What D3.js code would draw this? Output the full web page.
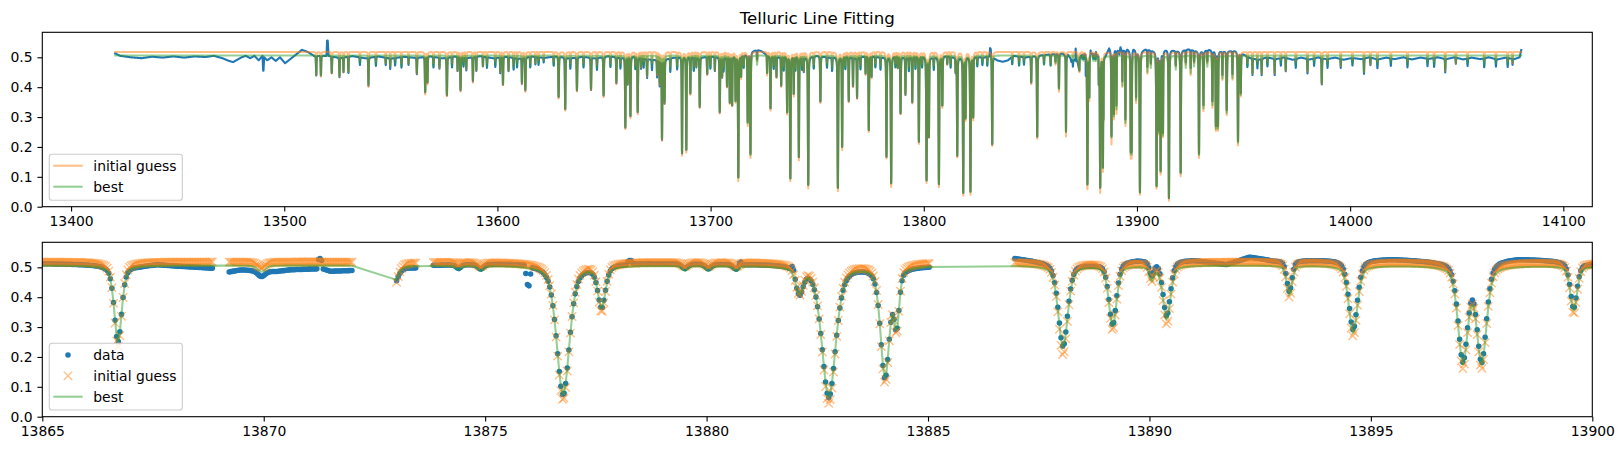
<!DOCTYPE html>
<html>
<head>
<meta charset="utf-8">
<script src="https://cdnjs.cloudflare.com/ajax/libs/d3/7.8.5/d3.min.js"></script>
<style>
  body { margin: 0; background: #fff; }
  svg text { font-family: "DejaVu Sans", sans-serif; fill: #000; }
</style>
</head>
<body>
<svg id="fig" width="1623" height="451"></svg>
<script>
// tick labels
var topTicks = [13400, 13500, 13600, 13700, 13800, 13900, 14000, 14100];
var zoomTicks = [13865, 13870, 13875, 13880, 13885, 13890, 13895, 13900];
var yTicks = [0.0, 0.1, 0.2, 0.3, 0.4, 0.5];

// wavelength stretches covered by the spectrum (gaps between them)
var segStart = [13420.7, 13508.3, 13869.22, 13873.0, 13873.83, 13886.96];
var segEnd   = [13500.4, 13868.86, 13872.02, 13873.46, 13885.04, 14080.3];
var pixelStep = 0.036;

// continuum levels of the model fits
var bestLevel = 0.506;
var guessLevel = 0.518;

var contX = [13420.7, 13423, 13428, 13433, 13438, 13443, 13448, 13453, 13458, 13463, 13467, 13471, 13474, 13476, 13478,
  13480, 13482, 13484, 13486, 13488, 13489.8, 13490.1, 13490.25, 13490.6, 13492, 13494, 13496, 13498, 13500.4,
  13508.3, 13511, 13514, 13519.8, 13520.1, 13520.4, 13520.8,
  13526, 13532, 13538, 13544, 13550, 13556, 13562, 13568, 13574, 13580, 13586, 13592, 13598, 13604, 13610,
  13616, 13622, 13628, 13634, 13640, 13646, 13652, 13658, 13664, 13670, 13676, 13682, 13688, 13694, 13700,
  13706, 13712, 13716, 13719, 13722, 13724, 13727, 13732, 13738, 13744, 13750, 13756, 13762, 13768, 13774,
  13780, 13786, 13792, 13798, 13804, 13810, 13816, 13822, 13828,
  13830.8, 13831.1, 13831.4, 13831.8, 13834.5, 13837, 13839.5, 13842, 13848, 13854, 13860,
  13865, 13866.0, 13867.2, 13867.6, 13868.0, 13868.86, 13869.22, 13869.5, 13870.3, 13870.6,
  13871.20, 13871.24, 13871.30, 13871.34, 13871.5, 13872.02, 13873.0, 13873.46, 13873.83,
  13875.8, 13875.90, 13875.94, 13876.00, 13876.04, 13877.4, 13878.0, 13878.20, 13878.23, 13878.30, 13878.34,
  13880.70, 13880.73, 13880.78, 13880.82, 13881.88, 13881.92, 13881.98, 13882.02, 13885.04,
  13886.96, 13887.5, 13888.7, 13889.7, 13891.0, 13891.74, 13892.27, 13892.8, 13895.5, 13896.5, 13898.3,
  13899.2, 13900, 13904, 13909, 13914, 13919, 13924, 13929, 13934, 13940, 13946, 13950, 13953, 13957,
  13961, 13965, 13969, 13973, 13977, 13981, 13985, 13989, 13993, 13997, 14001, 14005, 14009, 14013, 14017,
  14021, 14025, 14029, 14033, 14037, 14041, 14045, 14049, 14053, 14057, 14061, 14065, 14069, 14073, 14077,
  14079.5, 14080.3];
var contY = [0.513, 0.505, 0.500, 0.497, 0.502, 0.499, 0.503, 0.499, 0.503, 0.501, 0.505, 0.497, 0.488, 0.484, 0.492,
  0.500, 0.505, 0.497, 0.505, 0.490, 0.505, 0.455, 0.455, 0.500, 0.490, 0.500, 0.488, 0.500, 0.480,
  0.525, 0.518, 0.505, 0.505, 0.556, 0.556, 0.505,
  0.498, 0.504, 0.497, 0.503, 0.496, 0.502, 0.498, 0.504, 0.497, 0.503, 0.498, 0.504, 0.497, 0.502, 0.496,
  0.503, 0.498, 0.504, 0.497, 0.502, 0.497, 0.504, 0.498, 0.503, 0.494, 0.490, 0.498, 0.504, 0.498, 0.503,
  0.498, 0.505, 0.508, 0.520, 0.525, 0.520, 0.505, 0.500, 0.506, 0.499, 0.505, 0.499, 0.504, 0.498, 0.505,
  0.499, 0.504, 0.498, 0.505, 0.499, 0.504, 0.498, 0.504, 0.499,
  0.505, 0.534, 0.534, 0.505, 0.490, 0.485, 0.490, 0.505, 0.500, 0.507, 0.510,
  0.513, 0.510, 0.505, 0.510, 0.505, 0.497, 0.485, 0.492, 0.487, 0.492,
  0.495, 0.530, 0.530, 0.495, 0.487, 0.490, 0.503, 0.500, 0.508,
  0.515, 0.515, 0.452, 0.445, 0.510, 0.505, 0.513, 0.513, 0.527, 0.527, 0.515,
  0.512, 0.525, 0.525, 0.512, 0.512, 0.530, 0.530, 0.505, 0.505,
  0.532, 0.522, 0.512, 0.527, 0.525, 0.510, 0.535, 0.523, 0.529, 0.522, 0.532,
  0.524, 0.515, 0.527, 0.520, 0.528, 0.521, 0.527, 0.520, 0.526, 0.520, 0.522, 0.510, 0.498, 0.492,
  0.500, 0.494, 0.500, 0.492, 0.499, 0.493, 0.500, 0.494, 0.499, 0.492, 0.498, 0.494, 0.500, 0.493, 0.499,
  0.494, 0.500, 0.493, 0.499, 0.495, 0.500, 0.494, 0.500, 0.493, 0.499, 0.494, 0.500, 0.493, 0.499, 0.494,
  0.500, 0.525];

// telluric lines: centre, width (FWHM), minimum of data/best, minimum of initial guess
var lineCenter = [13515.0, 13517.2, 13522.3, 13525.9, 13527.8, 13530.1, 13539.5, 13547.6, 13549.7, 13558.3,
  13562.2, 13566.1, 13567.2, 13572.8, 13576.3, 13581.3, 13582.7, 13585.4, 13588.5, 13590.1,
  13593.2, 13601.3, 13602.6, 13605.2, 13611.5, 13613.1, 13617.8, 13621.7, 13628.7, 13631.8,
  13637.3, 13643.9, 13649.8, 13655.8, 13660.0, 13661.1, 13662.4, 13665.8, 13667.4, 13670.2,
  13674.9, 13676.1, 13677.2, 13678.4, 13686.6, 13688.6, 13690.5, 13693.3, 13694.9, 13698.4,
  13702.0, 13704.3, 13705.4, 13707.7, 13709.0, 13710.1, 13711.7, 13713.0, 13714.3, 13717.4,
  13718.7, 13726.5, 13728.1, 13730.9, 13733.1, 13735.9, 13737.4, 13739.0, 13741.4, 13743.7,
  13745.8, 13751.5, 13759.7, 13761.7, 13764.8, 13766.8, 13768.7, 13772.7, 13774.2, 13775.5,
  13782.5, 13784.7, 13787.8, 13789.1, 13791.4, 13794.6, 13797.7, 13801.3, 13802.4, 13807.1,
  13808.7, 13811.0, 13814.9, 13815.7, 13818.5, 13819.6, 13821.9, 13823.2, 13832.1, 13850.4,
  13853.2, 13861.8, 13863.4, 13866.71, 13869.95, 13872.9, 13874.4, 13874.9, 13876.76, 13877.63,
  13879.51, 13880.04, 13880.67, 13882.1, 13882.76, 13884.03, 13884.29, 13888.05, 13889.17, 13890.05,
  13890.39, 13893.16, 13894.6, 13897.08, 13897.5, 13899.58, 13901.4, 13904.9, 13909.2, 13910.3,
  13911.1, 13912.2, 13915.0, 13920.5, 13925.2, 13929.1, 13931.2, 13935.4, 13937.0, 13938.0,
  13940.1, 13942.1, 13944.8, 13947.4, 13948.7, 13954.2, 13958.5, 13964.6, 13969.8, 13980.0,
  13986.7, 13995.6, 14006.5, 14009.5, 14044.6, 14049.6, 14076.2];
var lineWidth = [0.25, 0.25, 0.25, 0.25, 0.2, 0.2, 0.25, 0.2, 0.2, 0.2,
  0.25, 0.3, 0.25, 0.2, 0.3, 0.2, 0.3, 0.2, 0.25, 0.2,
  0.2, 0.2, 0.25, 0.2, 0.25, 0.3, 0.2, 0.2, 0.3, 0.3,
  0.3, 0.3, 0.3, 0.25, 0.3, 0.2, 0.3, 0.3, 0.2, 0.25,
  0.25, 0.25, 0.3, 0.3, 0.3, 0.3, 0.25, 0.2, 0.3, 0.25,
  0.2, 0.3, 0.2, 0.25, 0.25, 0.25, 0.25, 0.35, 0.2, 0.3,
  0.3, 0.2, 0.3, 0.2, 0.25, 0.3, 0.35, 0.25, 0.3, 0.2,
  0.35, 0.3, 0.35, 0.3, 0.25, 0.25, 0.25, 0.2, 0.3, 0.2,
  0.3, 0.35, 0.2, 0.3, 0.25, 0.25, 0.3, 0.35, 0.3, 0.35,
  0.3, 0.2, 0.2, 0.3, 0.35, 0.25, 0.35, 0.25, 0.3, 0.25,
  0.3, 0.2, 0.25, 0.2, 0.2, 0.25, 0.12, 0.15, 0.34, 0.2,
  0.15, 0.15, 0.15, 0.2, 0.37, 0.24, 0.14, 0.25, 0.2, 0.12,
  0.2, 0.14, 0.23, 0.26, 0.26, 0.18, 0.35, 0.2, 0.35, 0.25,
  0.3, 0.25, 0.35, 0.3, 0.2, 0.3, 0.3, 0.3, 0.3, 0.3,
  0.2, 0.3, 0.2, 0.3, 0.25, 0.2, 0.2, 0.2, 0.2, 0.2,
  0.25, 0.2, 0.2, 0.2, 0.2, 0.2, 0.2];
var lineMin = [0.44, 0.44, 0.45, 0.44, 0.455, 0.45, 0.41, 0.48, 0.47, 0.48,
  0.45, 0.385, 0.418, 0.469, 0.377, 0.458, 0.393, 0.463, 0.424, 0.458,
  0.472, 0.452, 0.411, 0.458, 0.418, 0.394, 0.48, 0.49, 0.368, 0.329,
  0.393, 0.396, 0.374, 0.418, 0.268, 0.413, 0.304, 0.32, 0.469, 0.441,
  0.447, 0.418, 0.229, 0.355, 0.179, 0.19, 0.382, 0.474, 0.337, 0.447,
  0.458, 0.318, 0.44, 0.407, 0.352, 0.34, 0.357, 0.098, 0.437, 0.279,
  0.17, 0.447, 0.329, 0.437, 0.407, 0.318, 0.095, 0.38, 0.167, 0.458,
  0.073, 0.352, 0.062, 0.201, 0.357, 0.407, 0.368, 0.447, 0.257, 0.437,
  0.167, 0.078, 0.469, 0.315, 0.38, 0.352, 0.218, 0.089, 0.235, 0.076,
  0.34, 0.48, 0.458, 0.173, 0.045, 0.30, 0.05, 0.301, 0.207, 0.418,
  0.232, 0.48, 0.393, 0.25, 0.485, 0.43, 0.493, 0.49, 0.072, 0.366,
  0.49, 0.49, 0.49, 0.42, 0.064, 0.13, 0.31, 0.23, 0.30, 0.46,
  0.325, 0.405, 0.28, 0.18, 0.178, 0.355, 0.047, 0.45, 0.067, 0.25,
  0.114, 0.24, 0.028, 0.109, 0.447, 0.17, 0.329, 0.34, 0.262, 0.262,
  0.43, 0.313, 0.43, 0.214, 0.375, 0.449, 0.45, 0.45, 0.46, 0.455,
  0.415, 0.475, 0.452, 0.48, 0.46, 0.485, 0.485];
var guessMin = [0.44, 0.435, 0.445, 0.435, 0.45, 0.45, 0.40, 0.48, 0.47, 0.48,
  0.445, 0.375, 0.41, 0.465, 0.37, 0.455, 0.385, 0.46, 0.415, 0.455,
  0.47, 0.45, 0.405, 0.455, 0.41, 0.385, 0.48, 0.49, 0.36, 0.32,
  0.385, 0.39, 0.365, 0.41, 0.26, 0.41, 0.295, 0.31, 0.465, 0.435,
  0.44, 0.41, 0.22, 0.345, 0.17, 0.18, 0.375, 0.47, 0.33, 0.44,
  0.455, 0.31, 0.435, 0.40, 0.345, 0.335, 0.35, 0.085, 0.43, 0.27,
  0.16, 0.44, 0.32, 0.43, 0.40, 0.31, 0.085, 0.37, 0.155, 0.455,
  0.06, 0.345, 0.05, 0.19, 0.35, 0.40, 0.36, 0.44, 0.25, 0.43,
  0.16, 0.065, 0.465, 0.31, 0.375, 0.345, 0.21, 0.08, 0.23, 0.065,
  0.33, 0.475, 0.455, 0.165, 0.035, 0.29, 0.04, 0.29, 0.2, 0.41,
  0.225, 0.475, 0.385, 0.234, 0.50, 0.41, 0.512, 0.505, 0.056, 0.355,
  0.505, 0.505, 0.505, 0.42, 0.045, 0.115, 0.30, 0.207, 0.29, 0.46,
  0.31, 0.40, 0.27, 0.165, 0.165, 0.345, 0.04, 0.445, 0.06, 0.245,
  0.105, 0.235, 0.02, 0.1, 0.44, 0.16, 0.32, 0.33, 0.255, 0.255,
  0.425, 0.305, 0.425, 0.205, 0.37, 0.445, 0.445, 0.445, 0.455, 0.45,
  0.41, 0.47, 0.45, 0.475, 0.455, 0.48, 0.48];

// weak lines that make up the ragged band near the continuum (top panel only)
var weakCenter = [13535.5, 13543.0, 13552.0, 13555.0, 13570.0, 13578.7, 13584.1, 13595.1, 13599.0, 13607.6,
  13609.2, 13615.4, 13619.3, 13626.4, 13634.2, 13640.4, 13646.7, 13653.0, 13657.7, 13664.7,
  13668.6, 13672.5, 13681.1, 13684.3, 13692.1, 13699.9, 13706.1, 13715.5, 13721.8, 13729.6,
  13734.3, 13739.8, 13742.9, 13748.4, 13754.6, 13757.0, 13763.2, 13770.3, 13777.3, 13779.7,
  13786.7, 13793.0, 13796.1, 13799.2, 13804.7, 13812.6, 13825.1, 13827.5, 13829.8, 13841.5,
  13844.7, 13847.0, 13856.4, 13859.5, 13906.5, 13918.2, 13922.9, 13926.8, 13933.0, 13951.8,
  13956.5, 13961.2, 13967.5, 13974.5, 13983.1, 13989.4, 14001.1, 14012.8, 14019.1, 14026.9,
  14036.3, 14039.4, 14055.1, 14062.9, 14068.4, 14073.9];
var weakMin = [0.48, 0.475, 0.48, 0.47, 0.47, 0.47, 0.475, 0.47, 0.475, 0.465,
  0.475, 0.47, 0.48, 0.475, 0.47, 0.47, 0.465, 0.47, 0.47, 0.465,
  0.475, 0.47, 0.46, 0.465, 0.46, 0.465, 0.46, 0.465, 0.475, 0.465,
  0.46, 0.46, 0.465, 0.465, 0.47, 0.46, 0.465, 0.465, 0.47, 0.465,
  0.47, 0.46, 0.465, 0.47, 0.465, 0.47, 0.475, 0.48, 0.475, 0.48,
  0.475, 0.48, 0.475, 0.47, 0.465, 0.46, 0.465, 0.47, 0.47, 0.47,
  0.475, 0.475, 0.48, 0.475, 0.48, 0.475, 0.48, 0.475, 0.48, 0.475,
  0.48, 0.475, 0.48, 0.475, 0.48, 0.475];

var legendTop = ["initial guess", "best"];
var legendBottom = ["data", "initial guess", "best"];

var colData = "#1f77b4", colGuess = "#ff7f0e", colBest = "#2ca02c";
var eta = 0.45; // lorentz share of the line shape
var weakWidth = 0.25;

function lineShape(dx, fwhm) {
  var u = dx / (fwhm / 2);
  return eta / (1 + u * u) + (1 - eta) * Math.exp(-Math.LN2 * u * u);
}

// build the spectrum on the detector grid
var contScale = d3.scaleLinear().domain(contX).range(contY).clamp(true);
var spectrum = [];
segStart.forEach(function(s, k) {
  for (var w = s; w <= segEnd[k] + 1e-9; w += pixelStep) {
    var tb = 1, tg = 1, i, dx, p;
    for (i = 0; i < lineCenter.length; i++) {
      dx = w - lineCenter[i];
      if (Math.abs(dx) > 4) continue;
      p = lineShape(dx, lineWidth[i]);
      tb *= 1 - (1 - lineMin[i] / bestLevel) * p;
      tg *= 1 - (1 - guessMin[i] / guessLevel) * p;
    }
    for (i = 0; i < weakCenter.length; i++) {
      dx = w - weakCenter[i];
      if (Math.abs(dx) > 3) continue;
      p = (1 - weakMin[i] / bestLevel) * lineShape(dx, weakWidth);
      tb *= 1 - p;
      tg *= 1 - p;
    }
    spectrum.push({
      w: w,
      data: contScale(w) * tb,
      guess: guessLevel * tg,
      best: bestLevel * tb
    });
  }
});

var svg = d3.select("#fig");
var left = 42.3, right = 1592.3;
var yDom = [0, 0.5837];

var xTop = d3.scaleLinear().domain([13386.5, 14113.6]).range([left, right]);
var yTop = d3.scaleLinear().domain(yDom).range([206.7, 32.3]);
var xBot = d3.scaleLinear().domain([13865, 13900]).range([left, right]);
var yBot = d3.scaleLinear().domain(yDom).range([416.7, 242.3]);

var defs = svg.append("defs");
defs.append("clipPath").attr("id", "clipTop").append("rect")
  .attr("x", left).attr("y", 32.3).attr("width", right - left).attr("height", 206.7 - 32.3);
defs.append("clipPath").attr("id", "clipBot").append("rect")
  .attr("x", left).attr("y", 242.3).attr("width", right - left).attr("height", 416.7 - 242.3);

function drawAxes(x, y, ticks, y0, y1) {
  var ax = svg.append("g").attr("transform", "translate(0," + y1 + ")")
    .call(d3.axisBottom(x).tickValues(ticks).tickFormat(d3.format("d")).tickSize(4.86).tickPadding(4.86));
  var ay = svg.append("g").attr("transform", "translate(" + left + ",0)")
    .call(d3.axisLeft(y).tickValues(yTicks).tickFormat(d3.format(".1f")).tickSize(4.86).tickPadding(4.86));
  [ax, ay].forEach(function(a) {
    a.select(".domain").remove();
    a.selectAll("line").attr("stroke", "#000").attr("stroke-width", 1.1);
    a.selectAll("text").style("font-size", "13.9px").attr("fill", "#000");
  });
  svg.append("rect").attr("x", left).attr("y", y0).attr("width", right - left).attr("height", y1 - y0)
    .attr("fill", "none").attr("stroke", "#000").attr("stroke-width", 1.1);
}

// ---- top panel: full spectrum as lines ----
var gTop = svg.append("g").attr("clip-path", "url(#clipTop)");
var series = [["data", colData, 1], ["guess", colGuess, 0.5], ["best", colBest, 0.5]];
series.forEach(function(s) {
  var line = d3.line()
    .x(function(d) { return xTop(d.w); })
    .y(function(d) { return yTop(d[s[0]]); });
  gTop.append("path").attr("d", line(spectrum))
    .attr("fill", "none").attr("stroke", s[1]).attr("stroke-opacity", s[2])
    .attr("stroke-width", 2.08).attr("stroke-linejoin", "round").attr("stroke-linecap", "square");
});
drawAxes(xTop, yTop, topTicks, 32.3, 206.7);

svg.append("text").attr("x", (left + right) / 2).attr("y", 24)
  .attr("text-anchor", "middle").style("font-size", "16.67px").text("Telluric Line Fitting");

// ---- bottom panel: zoom with markers ----
var zoomPts = spectrum.filter(function(d) { return d.w > 13864.8 && d.w < 13900.2; });
var gBot = svg.append("g").attr("clip-path", "url(#clipBot)");
gBot.selectAll("circle.data").data(zoomPts).enter().append("circle")
  .attr("cx", function(d) { return xBot(d.w); })
  .attr("cy", function(d) { return yBot(d.data); })
  .attr("r", 2.08).attr("fill", colData).attr("stroke", colData).attr("stroke-width", 1.39);

function cross(cx, cy) {
  var h = 4.17;
  return "M" + (cx - h) + "," + (cy - h) + "L" + (cx + h) + "," + (cy + h) +
    "M" + (cx - h) + "," + (cy + h) + "L" + (cx + h) + "," + (cy - h);
}
gBot.selectAll("path.guess").data(zoomPts).enter().append("path")
  .attr("d", function(d) { return cross(xBot(d.w), yBot(d.guess)); })
  .attr("fill", "none").attr("stroke", colGuess).attr("stroke-opacity", 0.5).attr("stroke-width", 1.39);

gBot.append("path")
  .attr("d", d3.line().x(function(d) { return xBot(d.w); }).y(function(d) { return yBot(d.best); })(zoomPts))
  .attr("fill", "none").attr("stroke", colBest).attr("stroke-opacity", 0.5)
  .attr("stroke-width", 2.08).attr("stroke-linejoin", "round");
drawAxes(xBot, yBot, zoomTicks, 242.3, 416.7);

// ---- legends ----
function legend(labels, y0, h, rows) {
  var g = svg.append("g");
  g.append("rect").attr("x", 49.3).attr("y", y0).attr("width", 133).attr("height", h).attr("rx", 2.8)
    .attr("fill", "#fff").attr("fill-opacity", 0.8).attr("stroke", "#cccccc").attr("stroke-width", 1.1);
  labels.forEach(function(lab, i) {
    var cy = rows[i];
    if (lab === "data") {
      g.append("circle").attr("cx", 68).attr("cy", cy).attr("r", 2.08).attr("fill", colData)
        .attr("stroke", colData).attr("stroke-width", 1.39);
    } else if (lab === "initial guess" && labels.length === 3) {
      g.append("path").attr("d", cross(68, cy)).attr("stroke", colGuess).attr("stroke-opacity", 0.5)
        .attr("stroke-width", 1.39).attr("fill", "none");
    } else {
      g.append("line").attr("x1", 53.3).attr("x2", 82.7).attr("y1", cy).attr("y2", cy)
        .attr("stroke", lab === "best" ? colBest : colGuess).attr("stroke-opacity", 0.5).attr("stroke-width", 2.08);
    }
    g.append("text").attr("x", 93.3).attr("y", cy + 5).style("font-size", "13.9px").text(lab);
  });
}
legend(legendTop, 154.3, 46, [165.7, 186.7]);
legend(legendBottom, 343.3, 66.7, [355, 375.8, 396.7]);
</script>
</body>
</html>
